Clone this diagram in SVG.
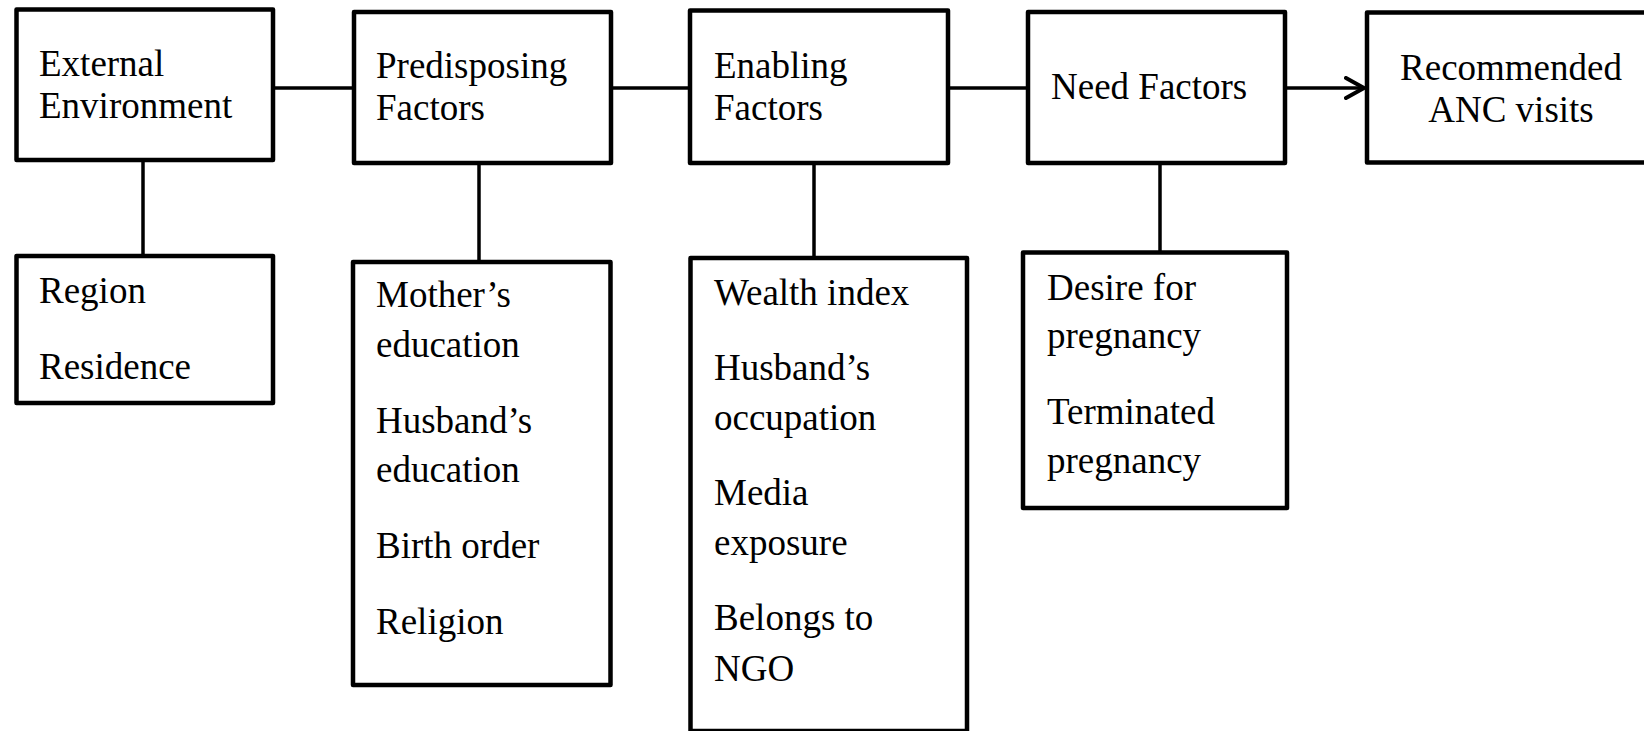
<svg xmlns="http://www.w3.org/2000/svg" width="1644" height="731" viewBox="0 0 1644 731">
<style>
.box{fill:#fff;stroke:#000;stroke-width:4.5;stroke-linejoin:round}
.con{fill:none;stroke:#000;stroke-width:3.5}
text{font-family:"Liberation Serif","Times New Roman",serif;font-size:37px;fill:#000}
.c{text-anchor:middle}
</style>
<defs>
<marker id="arr" markerWidth="24" markerHeight="24" refX="20" refY="12" orient="auto" markerUnits="userSpaceOnUse">
<path d="M2,2 L20,12 L2,22" fill="none" stroke="#000" stroke-width="4" stroke-linecap="round" stroke-linejoin="round"/>
</marker>
</defs>
<g id="connectors">
<line class="con" x1="273" y1="88" x2="354" y2="88"/>
<line class="con" x1="611" y1="88" x2="690" y2="88"/>
<line class="con" x1="948" y1="88" x2="1028" y2="88"/>
<line class="con" x1="1285" y1="88" x2="1364" y2="88" marker-end="url(#arr)"/>
<line class="con" x1="143" y1="160" x2="143" y2="256"/>
<line class="con" x1="479" y1="163" x2="479" y2="262"/>
<line class="con" x1="814" y1="163" x2="814" y2="258"/>
<line class="con" x1="1160" y1="163" x2="1160" y2="252"/>
</g>
<g id="external">
<rect class="box" x="16.5" y="9.5" width="256.5" height="150.5"/>
<text x="39" y="76">External</text>
<text x="39" y="118">Environment</text>
</g>
<g id="predisposing">
<rect class="box" x="354" y="12" width="257" height="151"/>
<text x="376" y="78">Predisposing</text>
<text x="376" y="120">Factors</text>
</g>
<g id="enabling">
<rect class="box" x="690" y="10.5" width="258" height="152.5"/>
<text x="714" y="78">Enabling</text>
<text x="714" y="120">Factors</text>
</g>
<g id="need">
<rect class="box" x="1028" y="12" width="257" height="151"/>
<text x="1051" y="99">Need Factors</text>
</g>
<g id="anc">
<rect class="box" x="1367" y="12.5" width="300" height="150"/>
<text class="c" x="1511" y="80">Recommended</text>
<text class="c" x="1511" y="122">ANC visits</text>
</g>
<g id="external-items">
<rect class="box" x="16.5" y="256" width="256.5" height="147"/>
<text x="39" y="303">Region</text>
<text x="39" y="379">Residence</text>
</g>
<g id="predisposing-items">
<rect class="box" x="353" y="262" width="257.5" height="423"/>
<text x="376" y="307">Mother’s</text>
<text x="376" y="357">education</text>
<text x="376" y="433">Husband’s</text>
<text x="376" y="482">education</text>
<text x="376" y="558">Birth order</text>
<text x="376" y="634">Religion</text>
</g>
<g id="enabling-items">
<rect class="box" x="690.5" y="258" width="276.5" height="473"/>
<text x="714" y="305">Wealth index</text>
<text x="714" y="380">Husband’s</text>
<text x="714" y="430">occupation</text>
<text x="714" y="505">Media</text>
<text x="714" y="555">exposure</text>
<text x="714" y="630">Belongs to</text>
<text x="714" y="681">NGO</text>
</g>
<g id="need-items">
<rect class="box" x="1023" y="252.5" width="264" height="255.5"/>
<text x="1047" y="300">Desire for</text>
<text x="1047" y="348">pregnancy</text>
<text x="1047" y="424">Terminated</text>
<text x="1047" y="473">pregnancy</text>
</g>
</svg>
